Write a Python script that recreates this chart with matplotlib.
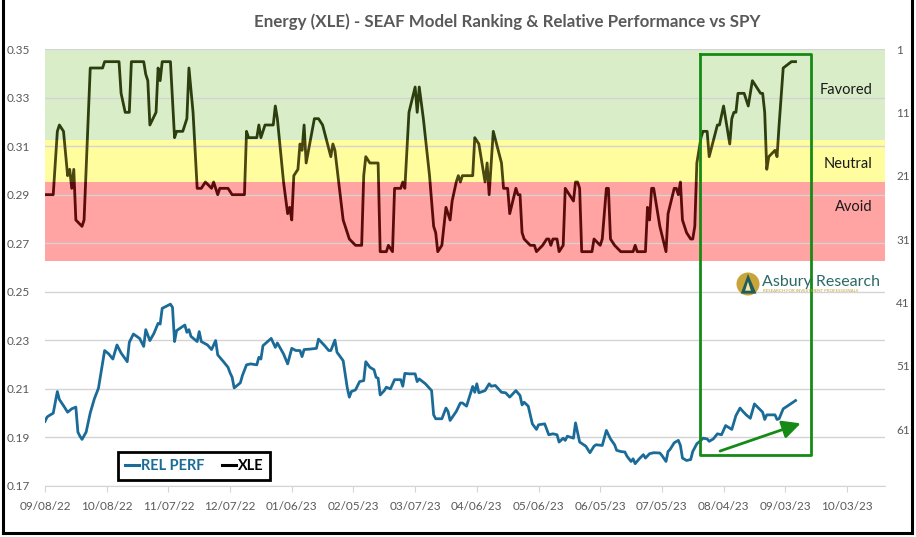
import matplotlib
matplotlib.use('Agg')
import matplotlib.pyplot as plt
import matplotlib.patches as mpatches
import matplotlib.transforms as mtrans
from matplotlib.lines import Line2D
import pandas as pd

plt.rcParams['font.family'] = ['Lato', 'DejaVu Sans']

# ---------------- data ----------------
START = pd.Timestamp('2022-09-08')

xle_day = [0, 4, 6, 7, 9, 11, 12, 13, 14, 15, 18, 19, 22, 28, 29, 36, 37, 39, 41, 42,
           48, 49, 50, 51, 54, 55, 56, 57, 61, 63, 64, 67, 69, 70, 72, 74, 76, 78, 81, 82,
           84, 85, 89, 91, 97, 98, 99, 103, 104, 105, 107, 111, 112, 113, 116, 118, 119, 120, 121, 123,
           124, 125, 126, 127, 131, 133, 135, 139, 140, 141, 145, 146, 148, 151, 154, 155, 156, 158, 162, 163,
           166, 167, 169, 170, 173, 174, 175, 177, 180, 181, 182, 184, 187, 189, 190, 191, 193, 195, 197, 198,
           200, 201, 202, 203, 208, 209, 211, 214, 215, 216, 218, 222, 223, 225, 226, 229, 230, 231, 232, 233,
           236, 238, 239, 242, 244, 245, 246, 247, 249, 250, 252, 253, 257, 258, 259, 260, 261, 266, 267, 270,
           271, 273, 274, 275, 277, 280, 286, 287, 288, 292, 293, 294, 295, 296, 299, 302, 303, 306, 307, 308,
           309, 310, 312, 314, 315, 316, 317, 319, 320, 322, 323, 327, 328, 330, 333, 334, 335, 336, 337, 340,
           342, 344, 348, 349, 350, 351, 352, 355, 356, 357, 359, 361, 363, 365]
xle_rank = [24, 24, 14, 13, 14, 21, 20, 23, 20, 28, 29, 28, 4, 4, 3, 3, 8, 11, 11, 3,
            3, 5, 6, 13, 11, 4, 6, 3, 3, 15, 14, 14, 12, 4, 11, 23, 23, 22, 23, 22,
            24, 23, 23, 24, 24, 14, 15, 15, 13, 15, 13, 13, 10, 12, 22, 27, 26, 28, 21, 20,
            16, 17, 13, 19, 12, 12, 13, 18, 16, 17, 28, 29, 31, 32, 32, 21, 18, 19, 19, 33,
            33, 32, 33, 23, 23, 22, 23, 11, 7, 11, 7, 12, 21, 29, 30, 33, 32, 26, 28, 25,
            22, 21, 22, 21, 21, 15, 16, 22, 19, 24, 14, 19, 23, 23, 27, 23, 24, 24, 30, 31,
            32, 32, 33, 32, 31, 31, 32, 31, 31, 33, 32, 23, 25, 22, 22, 23, 33, 33, 31, 32,
            31, 23, 23, 31, 32, 33, 33, 32, 33, 33, 26, 28, 23, 23, 29, 33, 27, 23, 23, 24,
            22, 28, 30, 31, 31, 29, 19, 15, 14, 14, 18, 13, 13, 10, 16, 12, 11, 11, 8, 8,
            10, 6, 8, 8, 11, 20, 18, 17, 18, 13, 4, 3.5, 3, 3]

rel_day = [0, 1, 2, 4, 6, 7, 9, 11, 13, 15, 16, 17, 18, 20, 22, 24, 26, 29, 31, 33,
           35, 37, 40, 41, 43, 46, 48, 49, 51, 53, 55, 56, 57, 58, 61, 62, 63, 64, 68, 69,
           70, 71, 74, 75, 76, 79, 81, 83, 84, 87, 89, 90, 91, 92, 95, 96, 98, 100, 103, 104,
           105, 106, 110, 112, 113, 116, 118, 120, 122, 124, 125, 126, 129, 132, 133, 136, 138, 139, 141, 142,
           145, 147, 148, 149, 151, 153, 155, 156, 158, 160, 161, 162, 163, 165, 166, 168, 170, 173, 174, 175,
           177, 180, 181, 182, 185, 188, 189, 190, 193, 195, 196, 197, 200, 202, 203, 205, 208, 209, 210, 211,
           214, 216, 217, 219, 222, 224, 226, 229, 231, 232, 233, 235, 237, 239, 240, 243, 245, 247, 249, 250,
           252, 253, 254, 257, 258, 260, 263, 265, 267, 268, 271, 273, 275, 277, 278, 280, 282, 283, 285, 286,
           287, 289, 291, 292, 294, 296, 299, 300, 302, 303, 304, 306, 308, 309, 310, 312, 314, 315, 317, 319,
           320, 322, 323, 325, 327, 329, 331, 333, 334, 336, 338, 339, 341, 343, 345, 347, 349, 350, 351, 355,
           356, 357, 359, 361, 365]
rel_val = [0.1966, 0.1984, 0.1990, 0.2000, 0.2089, 0.2056, 0.2031, 0.2004, 0.2018, 0.2025,
           0.1922, 0.1905, 0.1892, 0.1922, 0.2001, 0.2059, 0.2103, 0.2258, 0.2244, 0.2223,
           0.2281, 0.2248, 0.2212, 0.2292, 0.2326, 0.2308, 0.2275, 0.2344, 0.2299, 0.2329,
           0.2370, 0.2367, 0.2432, 0.2436, 0.2449, 0.2436, 0.2295, 0.2340, 0.2363, 0.2333,
           0.2344, 0.2316, 0.2295, 0.2336, 0.2295, 0.2281, 0.2262, 0.2299, 0.2240, 0.2210,
           0.2189, 0.2166, 0.2148, 0.2104, 0.2125, 0.2155, 0.2199, 0.2203, 0.2199, 0.2230,
           0.2223, 0.2278, 0.2308, 0.2271, 0.2289, 0.2244, 0.2203, 0.2267, 0.2258, 0.2258,
           0.2233, 0.2262, 0.2264, 0.2267, 0.2305, 0.2278, 0.2258, 0.2258, 0.2301, 0.2251,
           0.2216, 0.2104, 0.2066, 0.2089, 0.2096, 0.2130, 0.2134, 0.2212, 0.2189, 0.2179,
           0.2148, 0.2144, 0.2075, 0.2093, 0.2107, 0.2100, 0.2138, 0.2138, 0.2111, 0.2164,
           0.2162, 0.2162, 0.2130, 0.2141, 0.2121, 0.2093, 0.1993, 0.1977, 0.1977, 0.2021,
           0.2007, 0.1970, 0.2007, 0.2042, 0.2042, 0.2029, 0.2110, 0.2086, 0.2121, 0.2084,
           0.2093, 0.2121, 0.2111, 0.2114, 0.2086, 0.2084, 0.2066, 0.2093, 0.2073, 0.2034,
           0.2045, 0.2029, 0.1956, 0.1933, 0.1952, 0.1956, 0.1911, 0.1915, 0.1911, 0.1881,
           0.1897, 0.1888, 0.1905, 0.1897, 0.1960, 0.1881, 0.1864, 0.1837, 0.1864, 0.1870,
           0.1867, 0.1929, 0.1894, 0.1870, 0.1847, 0.1842, 0.1840, 0.1823, 0.1801, 0.1812,
           0.1792, 0.1812, 0.1829, 0.1815, 0.1833, 0.1837, 0.1836, 0.1826, 0.1801, 0.1842,
           0.1851, 0.1878, 0.1888, 0.1867, 0.1815, 0.1805, 0.1809, 0.1842, 0.1874, 0.1888,
           0.1897, 0.1894, 0.1884, 0.1894, 0.1915, 0.1911, 0.1949, 0.1938, 0.1933, 0.1990,
           0.2021, 0.2011, 0.1993, 0.1979, 0.2038, 0.2021, 0.2004, 0.1974, 0.1993, 0.1993,
           0.1974, 0.1977, 0.2018, 0.2029, 0.2052]

tick_dates = ['2022-09-08', '2022-10-08', '2022-11-07', '2022-12-07', '2023-01-06', '2023-02-05',
              '2023-03-07', '2023-04-06', '2023-05-06', '2023-06-05', '2023-07-05', '2023-08-04',
              '2023-09-03', '2023-10-03']
tick_labels = ['09/08/22', '10/08/22', '11/07/22', '12/07/22', '01/06/23', '02/05/23', '03/07/23',
               '04/06/23', '05/06/23', '06/05/23', '07/05/23', '08/04/23', '09/03/23', '10/03/23']
left_ticks = [0.17, 0.19, 0.21, 0.23, 0.25, 0.27, 0.29, 0.31, 0.33, 0.35]
right_ticks = [1, 11, 21, 31, 41, 51, 61]

# rank zones: (top rank, bottom rank, fill colour, label, line colour inside zone)
zones = [(1, 15.4, '#d9edc8', 'Favored', '#2c3d0e'),
         (15.4, 22.0, '#fffd9e', 'Neutral', '#4a4710'),
         (22.0, 34.4, '#ffa3a3', 'Avoid', '#5a0b0b')]
zone_label_rank = [7.5, 19.2, 26.0]

BLUE = '#1b6b98'
GREEN = '#158a15'
GRAY = '#595959'

# ---------------- figure ----------------
W, H = 916, 537
fig = plt.figure(figsize=(W / 100, H / 100), dpi=100)
L, R, T, B = 45, 885, 49, 486
ax = fig.add_axes([L / W, 1 - B / H, (R - L) / W, (B - T) / H])
ax2 = ax.twinx()

xmin = START
xmax = START + pd.Timedelta(days=408.5)
ax.set_xlim(xmin, xmax)
ax.set_ylim(0.17, 0.35)
ax2.set_ylim(70, 1)

# zones
btr = mtrans.blended_transform_factory(ax.transAxes, ax2.transData)
for top, bot, col, lab, lc in zones:
    ax.add_patch(mpatches.Rectangle((0, top), 1, bot - top, transform=btr,
                                    facecolor=col, edgecolor='none', zorder=0.1))

ax.set_axisbelow(True)
ax.grid(axis='y', color='#d4d4d4', linewidth=1.0)
ax.grid(axis='x', visible=False)

rel_dates = START + pd.to_timedelta(rel_day, unit='D')
xle_dates = START + pd.to_timedelta(xle_day, unit='D')

ax.plot(rel_dates, rel_val, color=BLUE, linewidth=2.0, zorder=3)

# XLE ranking line, tinted by the zone it passes through
btr2 = mtrans.blended_transform_factory(ax2.transAxes, ax2.transData)
clip_bounds = [(-10, zones[0][1]), (zones[1][0], zones[1][1]), (zones[2][0], 80)]
for (top, bot, col, lab, lc), (c0, c1) in zip(zones, clip_bounds):
    ln, = ax2.plot(xle_dates, xle_rank, color=lc, linewidth=2.0, zorder=3,
                   solid_joinstyle='round')
    clip = mpatches.Rectangle((0, c0), 1, c1 - c0, transform=btr2, facecolor='none',
                              edgecolor='none')
    ax2.add_patch(clip)
    ln.set_clip_path(clip)

# zone labels
lab_x = START + pd.Timedelta(days=402.3)
for (top, bot, col, lab, lc), r in zip(zones, zone_label_rank):
    ax2.text(lab_x, r, lab, ha='right', va='center', fontsize=10.5, color='#1a1a1a')

# ticks
ax.set_yticks(left_ticks)
ax.set_yticklabels([f'{t:.2f}' for t in left_ticks])
ax2.set_yticks(right_ticks)
ax2.set_yticklabels([str(t) for t in right_ticks])
ax.set_xticks(pd.to_datetime(tick_dates))
ax.set_xticklabels(tick_labels)
ax.tick_params(axis='y', length=0, pad=11, labelcolor=GRAY, labelsize=8.5)
ax2.tick_params(axis='y', length=0, pad=8, labelcolor=GRAY, labelsize=8.5)
ax.tick_params(axis='x', length=4, color='#d4d4d4', pad=7, labelcolor=GRAY, labelsize=8.5)

for s in ['left', 'right', 'top']:
    ax.spines[s].set_visible(False)
    ax2.spines[s].set_visible(False)
ax.spines['bottom'].set_color('#d4d4d4')
ax2.spines['bottom'].set_visible(False)

# highlight box and trend arrow
box_x0 = START + pd.Timedelta(days=318.4)
box_x1 = START + pd.Timedelta(days=372.4)
ax2.plot([box_x0, box_x1, box_x1, box_x0, box_x0],
         [1.8, 1.8, 65.1, 65.1, 1.8], color=GREEN, linewidth=2.0, zorder=4)
ax.annotate('', xy=(START + pd.Timedelta(days=367.5), 0.1958),
            xytext=(START + pd.Timedelta(days=328.3), 0.1844),
            arrowprops=dict(arrowstyle='-|>,head_length=1.1,head_width=0.55',
                            color=GREEN, lw=2.0, shrinkA=0, shrinkB=0), zorder=5)

# legend
handles = [Line2D([], [], color=BLUE, linewidth=2.2), Line2D([], [], color='black', linewidth=2.2)]
leg = ax2.legend(handles, ['REL PERF', 'XLE'], ncol=2, loc='center',
                 bbox_to_anchor=((194 - L) / (R - L), (B - 466) / (B - T)),
                 frameon=True, fancybox=False, edgecolor='black', framealpha=1,
                 handlelength=1.0, handletextpad=0.1, columnspacing=1.2,
                 borderpad=0.45, prop={'weight': 'bold', 'size': 10.5})
leg.get_frame().set_linewidth(2.0)
leg.get_texts()[0].set_color(BLUE)
leg.get_texts()[1].set_color('black')

# title
fig.text(507 / W, 1 - 22 / H, 'Energy (XLE) - SEAF Model Ranking & Relative Performance vs SPY',
         ha='center', va='center', fontsize=12.2, fontweight='bold', color=GRAY)

# logo
lax = fig.add_axes([736 / W, 1 - 296 / H, 24 / W, 24 / H])
lax.set_xlim(0, 1)
lax.set_ylim(0, 1)
lax.set_aspect('equal')
lax.axis('off')
lax.add_patch(mpatches.Circle((0.5, 0.5), 0.48, facecolor='#c9a43a', edgecolor='none'))
lax.add_patch(mpatches.Polygon([[0.5, 0.92], [0.2, 0.1], [0.85, 0.1]], closed=True,
                               facecolor='#1f5d5a', edgecolor='none'))
lax.add_patch(mpatches.Polygon([[0.5, 0.6], [0.38, 0.22], [0.62, 0.22]], closed=True,
                               facecolor='#f2e3a6', edgecolor='none'))
fig.text(762 / W, 1 - 282 / H, 'Asbury Research', ha='left', va='center', fontsize=11.5,
         color='#2b6a68')
fig.text(763 / W, 1 - 291.5 / H, 'RESEARCH FOR INVESTMENT PROFESSIONALS', ha='left', va='center',
         fontsize=3.2, color='#c2a23c')

# outer border
for xs, ys in [([3, 3], [0, 533]), ([3, 912], [533, 533]), ([912, 912], [0, 533])]:
    fig.add_artist(Line2D([x / W for x in xs], [1 - y / H for y in ys], transform=fig.transFigure,
                          color='black', linewidth=2.2))

fig.savefig('out.png', dpi=100)
